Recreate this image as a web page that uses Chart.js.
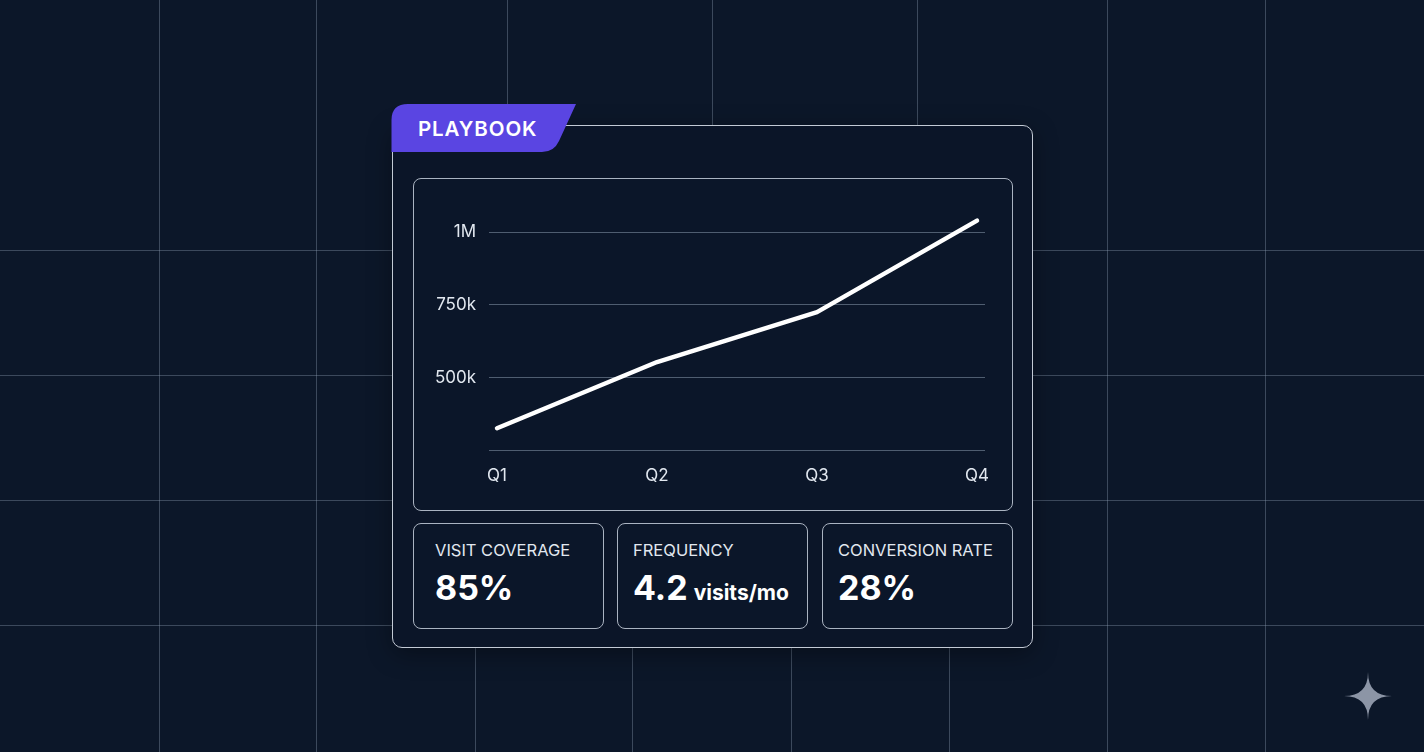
<!DOCTYPE html>
<html>
<head>
<meta charset="utf-8">
<script src="https://cdn.jsdelivr.net/npm/chart.js@4.4.1/dist/chart.umd.min.js"></script>
<style>
  html, body { margin:0; padding:0; }
  body { width:1424px; height:752px; background:#0c1729; position:relative; overflow:hidden; font-family:"Inter", "Noto Sans", sans-serif; color:#e5e9f0; }
  .gl { position:absolute; background:rgba(148,163,184,0.36); }
  .card { position:absolute; left:392px; top:125px; width:641px; height:523px; box-sizing:border-box; border:1px solid #c3cad5; border-radius:10px; background:#0b1528; box-shadow:0 6px 24px rgba(0,0,0,0.35); }
  .panel { position:absolute; left:413px; top:178px; width:600px; height:333px; box-sizing:border-box; border:1px solid #aab3c1; border-radius:8px; background:#0b1629; }
  #chartWrap { position:absolute; left:414px; top:180px; width:596px; height:328px; }
  .kpi { position:absolute; top:523px; width:191px; height:106px; box-sizing:border-box; border:1px solid #aab3c1; border-radius:8px; background:#0b1629; }
  .kpi .lbl { position:absolute; top:16px; font-size:16.5px; line-height:20px; color:#e2e8f0; white-space:nowrap; }
  .kpi .val { position:absolute; top:44px; font-size:34px; line-height:40px; font-weight:700; color:#ffffff; white-space:nowrap; }
  .kpi .val small { font-size:21px; font-weight:700; margin-left:6px; }
  .tag { position:absolute; left:0; top:0; }
  .tagText { position:absolute; left:418px; top:117px; font-size:20.5px; line-height:24px; font-weight:600; letter-spacing:0.9px; color:#ffffff; }
</style>
</head>
<body>
<div id="grid"></div>

<div class="card"></div>
<svg class="tag" width="1424" height="752">
  <path d="M391.5,152 L391.5,120 Q391.5,104 408,104 L576,104 L559,141 Q554,152 542,152 Z" fill="#5a45e2"/>
  <path d="M1368,672 Q1368,696 1392,696 Q1368,696 1368,720 Q1368,696 1344,696 Q1368,696 1368,672 Z" fill="#8c95a6"/>
</svg>
<div class="tagText">PLAYBOOK</div>

<div class="panel"></div>
<div id="chartWrap"><canvas id="chart"></canvas></div>

<div class="kpi" style="left:413px"><div class="lbl" style="left:21px">VISIT COVERAGE</div><div class="val" style="left:21px">85%</div></div>
<div class="kpi" style="left:617px"><div class="lbl" style="left:15px">FREQUENCY</div><div class="val" style="left:15px">4.2<small>visits/mo</small></div></div>
<div class="kpi" style="left:822px"><div class="lbl" style="left:15px">CONVERSION RATE</div><div class="val" style="left:15px">28%</div></div>

<script>
// data
const quarters = ["Q1", "Q2", "Q3", "Q4"];
const visits = [325000, 553000, 725000, 1040000];
const yTicks = [250000, 500000, 750000, 1000000];
const yLabels = ["", "500k", "750k", "1M"];

// background grid
const grid = document.getElementById("grid");
function line(x, y, w, h){
  const d = document.createElement("div");
  d.className = "gl";
  d.style.left = x + "px"; d.style.top = y + "px";
  d.style.width = w + "px"; d.style.height = h + "px";
  grid.appendChild(d);
}
[159, 316, 1107, 1265].forEach(x => line(x, 0, 1, 752));
[507, 712, 917].forEach(x => line(x, 0, 1, 126));
[475, 632, 791, 949].forEach(x => line(x, 646, 1, 106));
[250, 375, 500, 625].forEach(y => line(0, y, 1424, 1));

// chart
const ctx = document.getElementById("chart").getContext("2d");
new Chart(ctx, {
  type: "line",
  data: {
    datasets: [{
      data: visits.map((v, i) => ({ x: i, y: v })),
      borderColor: "#ffffff",
      borderWidth: 4.5,
      borderCapStyle: "round",
      borderJoinStyle: "round",
      pointRadius: 0,
      tension: 0
    }]
  },
  options: {
    responsive: true,
    maintainAspectRatio: false,
    animation: false,
    layout: { padding: { top: 21, right: 25, left: 0, bottom: 0 } },
    plugins: { legend: { display: false }, tooltip: { enabled: false } },
    scales: {
      x: {
        type: "linear",
        min: -0.05,
        max: 3.05,
        afterBuildTicks: s => { s.ticks = quarters.map((q, i) => ({ value: i })); },
        afterFit: s => { s.height = 58; },
        grid: { display: false, drawTicks: false },
        border: { display: false },
        ticks: {
          padding: 16,
          color: "#e2e8f0",
          font: { family: "Inter", size: 17 },
          callback: v => quarters[v]
        }
      },
      y: {
        type: "linear",
        min: 250000,
        max: 1100000,
        afterBuildTicks: s => { s.ticks = yTicks.map(v => ({ value: v })); },
        afterFit: s => { s.width = 75; },
        grid: { color: "rgba(148,163,184,0.5)", lineWidth: 1, drawTicks: false },
        border: { display: false },
        ticks: {
          padding: 13,
          color: "#e2e8f0",
          font: { family: "Inter", size: 17 },
          callback: (v, i) => yLabels[i]
        }
      }
    }
  }
});
</script>
</body>
</html>
